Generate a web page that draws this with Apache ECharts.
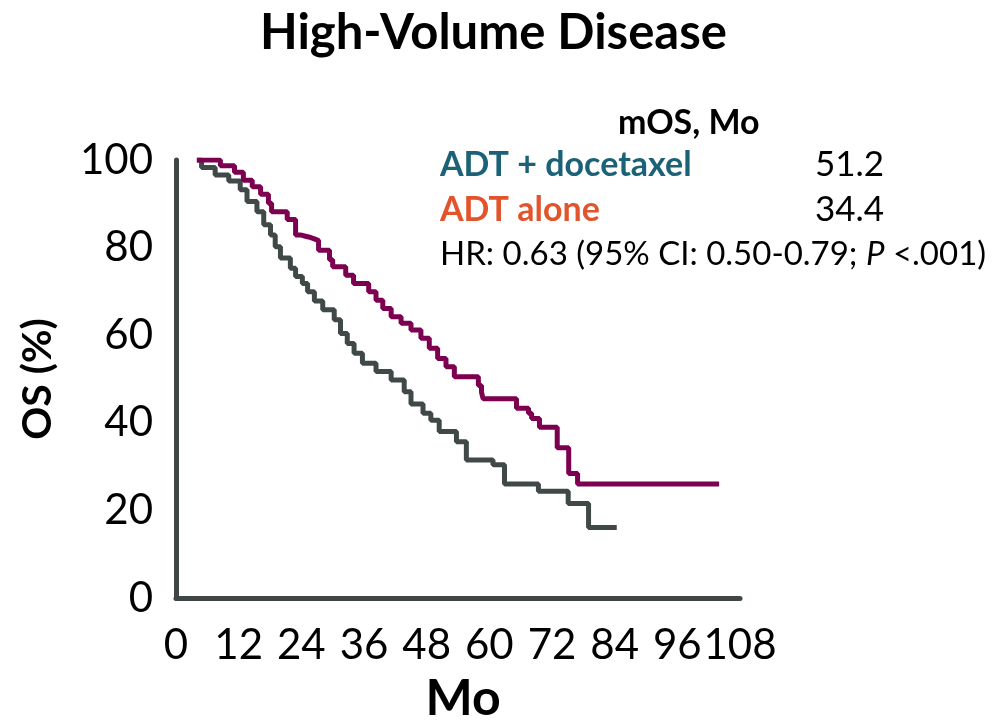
<!DOCTYPE html>
<html>
<head>
<meta charset="utf-8">
<title>High-Volume Disease</title>
<script src="https://cdn.jsdelivr.net/npm/echarts@6/dist/echarts.min.js"></script>
<style>
  html,
  body {
    margin: 0;
    padding: 0;
    background: #fff;
  }
  #chart {
    width: 997px;
    height: 723px;
  }
</style>
</head>
<body>
<div id="chart"></div>
<script>
// ADT + docetaxel (upper curve), months / OS %
const docetaxelMonths = [4.0, 8.5, 11.2, 12.9, 14.6, 16.2, 17.7, 18.3, 21.3, 22.9, 23.8, 24.8, 25.8, 26.5, 27.3, 29.4, 30.0, 32.5, 34.0, 36.9, 38.3, 39.6, 41.2, 43.1, 45.0, 46.9, 48.5, 50.1, 51.7, 53.3, 57.9, 58.5, 58.8, 65.2, 67.5, 68.1, 69.6, 73.0, 75.2, 76.9, 104.0]
const docetaxelOS = [100, 98.7, 97.2, 95.4, 93.9, 92.2, 90.1, 88.2, 86.4, 82.9, 82.6, 82.3, 82.0, 81.6, 79.4, 77.2, 75.6, 73.7, 71.8, 69.9, 68.0, 66.1, 64.2, 62.7, 61.2, 59.3, 57.0, 54.7, 52.8, 50.5, 48.5, 47.0, 45.5, 43.3, 42.2, 41.0, 39.0, 34.3, 28.4, 26.0, 26.0]

// ADT alone (lower curve)
const aloneMonths = [4.0, 4.9, 7.5, 10.1, 12.3, 13.6, 15.5, 16.8, 18.1, 19.0, 20.0, 21.9, 22.9, 24.2, 25.2, 26.5, 28.1, 30.3, 31.5, 32.8, 34.1, 35.7, 38.3, 41.2, 43.7, 45.0, 47.3, 48.8, 50.4, 53.7, 55.6, 60.7, 62.9, 69.4, 75.1, 79.0, 84.4]
const aloneOS = [100, 98.3, 96.6, 95.2, 93.2, 90.5, 88.2, 85.2, 82.9, 80.2, 77.6, 75.3, 73.4, 71.8, 69.9, 67.8, 65.8, 63.5, 60.4, 58.1, 55.9, 53.6, 51.7, 49.8, 47.1, 44.3, 42.2, 40.6, 38.0, 35.7, 31.5, 30.4, 26.0, 24.4, 21.6, 16.1, 16.1]

const xTicks = [0, 12, 24, 36, 48, 60, 72, 84, 96, 108]
const yTicks = [0, 20, 40, 60, 80, 100]

const font = 'Lato'
const axisColor = '#404545'

const toPairs = (xs, ys) => xs.map((x, i) => [x, ys[i]])

const myChart = echarts.init(document.getElementById('chart'))
let option

option = {
  animation: false,
  backgroundColor: '#fff',
  textStyle: { fontFamily: font },
  title: {
    text: 'High-Volume Disease',
    left: 255,
    top: 4,
    textStyle: {
      fontFamily: font,
      fontSize: 49,
      fontWeight: 'bold',
      color: '#000'
    }
  },
  grid: {
    left: 176,
    right: 257,
    top: 160,
    bottom: 125,
    containLabel: false,
    outerBoundsMode: 'none'
  },
  xAxis: {
    type: 'value',
    min: xTicks[0],
    max: xTicks[xTicks.length - 1],
    interval: 12,
    name: 'Mo',
    nameLocation: 'middle',
    nameGap: 76,
    nameTextStyle: {
      fontFamily: font,
      fontSize: 50,
      fontWeight: 'bold',
      color: '#000',
      padding: [0, 0, 0, 10]
    },
    axisLine: {
      show: true,
      lineStyle: { color: axisColor, width: 5 }
    },
    axisTick: { show: false },
    splitLine: { show: false },
    axisLabel: {
      fontFamily: font,
      fontSize: 42,
      color: '#000',
      margin: 26
    }
  },
  yAxis: {
    type: 'value',
    min: yTicks[0],
    max: yTicks[yTicks.length - 1],
    interval: 20,
    name: 'OS (%)',
    nameLocation: 'middle',
    nameGap: 118,
    nameRotate: 90,
    nameTextStyle: {
      fontFamily: font,
      fontSize: 41,
      fontWeight: 'bold',
      color: '#000'
    },
    axisLine: {
      show: true,
      lineStyle: { color: axisColor, width: 5 }
    },
    axisTick: { show: false },
    splitLine: { show: false },
    axisLabel: {
      fontFamily: font,
      fontSize: 42,
      color: '#000',
      margin: 23
    }
  },
  graphic: [
    {
      type: 'text',
      left: 618,
      top: 106,
      style: {
        text: 'mOS, Mo',
        font: 'bold 34px Lato',
        fill: '#000'
      }
    },
    {
      type: 'text',
      left: 440,
      top: 148,
      style: {
        text: 'ADT + docetaxel',
        font: 'bold 34px Lato',
        fill: '#1b6277'
      }
    },
    {
      type: 'text',
      left: 815,
      top: 147,
      style: {
        text: '51.2',
        font: '35px Lato',
        fill: '#000'
      }
    },
    {
      type: 'text',
      left: 440,
      top: 193,
      style: {
        text: 'ADT alone',
        font: 'bold 34px Lato',
        fill: '#e2542b'
      }
    },
    {
      type: 'text',
      left: 815,
      top: 192,
      style: {
        text: '34.4',
        font: '35px Lato',
        fill: '#000'
      }
    },
    {
      type: 'text',
      left: 440,
      top: 238,
      style: {
        text: '{n|HR: 0.63 (95% CI: 0.50-0.79; }{i|P}{n| <.001)}',
        rich: {
          n: { fontFamily: font, fontSize: 33, fill: '#000' },
          i: { fontFamily: font, fontSize: 33, fontStyle: 'italic', fill: '#000' }
        }
      }
    }
  ],
  series: [
    {
      name: 'ADT alone',
      type: 'line',
      step: 'end',
      symbol: 'none',
      lineStyle: { color: '#414848', width: 5 },
      data: toPairs(aloneMonths, aloneOS)
    },
    {
      name: 'ADT + docetaxel',
      type: 'line',
      step: 'end',
      symbol: 'none',
      lineStyle: { color: '#7d0050', width: 5 },
      data: toPairs(docetaxelMonths, docetaxelOS)
    }
  ]
}

option && myChart.setOption(option)
</script>
</body>
</html>
